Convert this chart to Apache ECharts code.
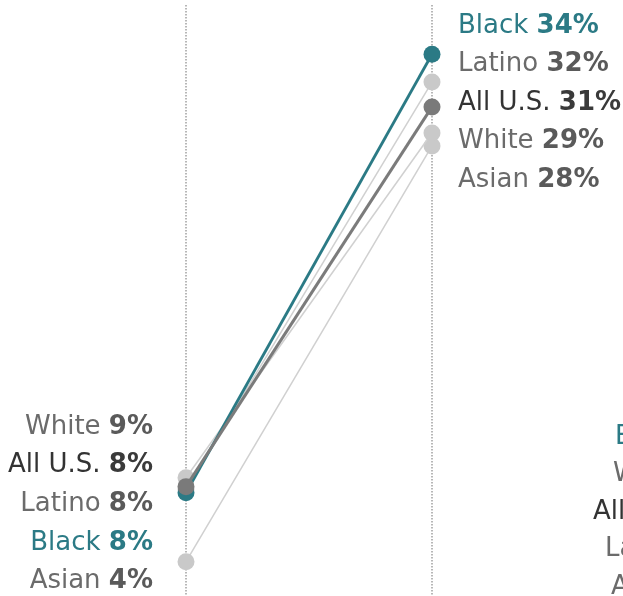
<!DOCTYPE html>
<html>
<head>
<meta charset="utf-8">
<script src="https://cdn.jsdelivr.net/npm/echarts@6/dist/echarts.min.js"></script>
<style>
  html, body { margin: 0; padding: 0; background: #ffffff; }
  #chart { width: 623px; height: 596px; }
</style>
</head>
<body>
<div id="chart"></div>
<script>
// Two time points, one line per group
const categories = ['Earlier', 'Later'];
const groups = ['Asian', 'White', 'Latino', 'Black', 'All U.S.'];
const startValues = [3.82, 8.76, 8.06, 7.88, 8.24];
const endValues = [28.3, 29.06, 32.06, 33.7, 30.6];

// Group names shown at the edge of the neighbouring panel
const nextPanelNames = ['Black', 'White', 'All U.S.', 'Latino', 'Asian'];

const FONT = '"DejaVu Sans", sans-serif';
const TEAL = '#2b7a85';
const styleFor = {
  'Black':    { line: TEAL, dot: TEAL, width: 2.8, name: TEAL, val: TEAL },
  'All U.S.': { line: '#7b7b7b', dot: '#7a7a7a', width: 3, name: '#333333', val: '#3a3a3a' },
  'White':    { line: '#d0d0d0', dot: '#c9c9c9', width: 1.5, name: '#6b6b6b', val: '#5a5a5a' },
  'Latino':   { line: '#d0d0d0', dot: '#c9c9c9', width: 1.5, name: '#6b6b6b', val: '#5a5a5a' },
  'Asian':    { line: '#d0d0d0', dot: '#c9c9c9', width: 1.5, name: '#6b6b6b', val: '#5a5a5a' }
};

const chart = echarts.init(document.getElementById('chart'), null, { renderer: 'canvas' });

const series = groups.map((g, i) => ({
  name: g,
  type: 'line',
  data: [startValues[i], endValues[i]],
  symbol: 'circle',
  symbolSize: 17,
  showSymbol: true,
  silent: true,
  animation: false,
  lineStyle: { color: styleFor[g].line, width: styleFor[g].width },
  itemStyle: { color: styleFor[g].dot, borderWidth: 0 },
  z: 2 + i
}));

chart.setOption({
  animation: false,
  backgroundColor: '#ffffff',
  grid: { left: 186, right: 191, top: 5, bottom: 0 },
  xAxis: {
    type: 'category',
    data: categories,
    boundaryGap: false,
    axisLine: { show: false },
    axisTick: { show: false },
    axisLabel: { show: false },
    splitLine: { show: true, lineStyle: { color: '#a0a0a0', width: 1.5, type: [1.5, 1.5] } }
  },
  yAxis: {
    type: 'value',
    min: 1.8,
    max: 36.6,
    show: false,
    splitLine: { show: false }
  },
  series: series
});

// Labels stacked beside each end, ordered by value
function richText(g, v) {
  return '{n|' + g + '\u00a0}{v|' + Math.round(v) + '%}';
}
function richStyles(g) {
  return {
    n: { fontFamily: FONT, fontSize: 26, fill: styleFor[g].name },
    v: { fontFamily: FONT, fontSize: 26, fontWeight: 'bold', fill: styleFor[g].val }
  };
}

function buildLabels(values, xPix, align, firstY, step) {
  const order = groups.map((g, i) => ({ g, v: values[i] }))
    .sort((a, b) => b.v - a.v);
  return order.map((d, k) => ({
    type: 'text',
    x: xPix,
    y: firstY + k * step,
    silent: true,
    style: {
      text: richText(d.g, d.v),
      rich: richStyles(d.g),
      align: align,
      verticalAlign: 'middle'
    }
  }));
}

const x0 = chart.convertToPixel({ xAxisIndex: 0 }, categories[0]);
const x1 = chart.convertToPixel({ xAxisIndex: 0 }, categories[1]);

const graphics = []
  .concat(buildLabels(startValues, x0 - 33, 'right', 427, 38.6))
  .concat(buildLabels(endValues, x1 + 26, 'left', 26, 38.5));

// Neighbouring panel labels, cut off by the edge
const nextX = [615, 613, 593, 605, 611];
nextPanelNames.forEach((g, k) => {
  graphics.push({
    type: 'text',
    x: nextX[k],
    y: 437 + k * 37.5,
    silent: true,
    style: {
      text: g,
      fontFamily: FONT,
      fontSize: 26,
      fill: styleFor[g].name,
      align: 'left',
      verticalAlign: 'middle'
    }
  });
});

chart.setOption({ graphic: graphics });
</script>
</body>
</html>
